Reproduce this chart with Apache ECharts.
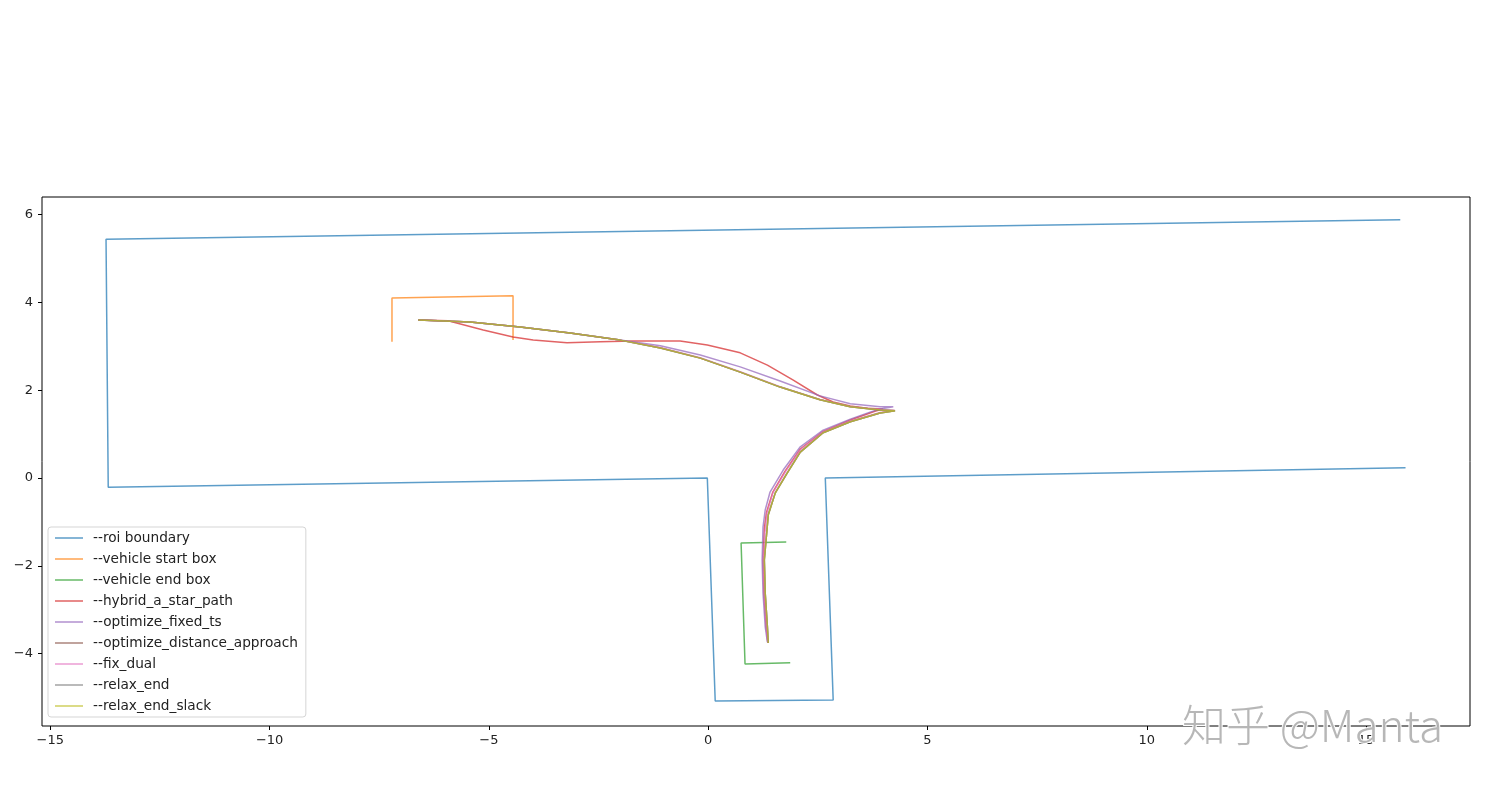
<!DOCTYPE html>
<html>
<head>
<meta charset="utf-8">
<script src="https://cdn.jsdelivr.net/npm/echarts@6/dist/echarts.min.js"></script>
<style>html,body{margin:0;padding:0;background:#fff;}#c{width:1492px;height:790px;}</style>
</head>
<body>
<div id="c"></div>
<script>
// ---- data ----
const seriesNames = ['--roi boundary','--vehicle start box','--vehicle end box','--hybrid_a_star_path','--optimize_fixed_ts','--optimize_distance_approach','--fix_dual','--relax_end','--relax_end_slack'];
const xTicks = [-15,-10,-5,0,5,10,15];
const yTicks = [-4,-2,0,2,4,6];

const roiBoundary = [[15.78,5.88],[-13.73,5.44],[-13.68,-0.21],[-0.02,0.0],[0.16,-5.08],[2.85,-5.06],[2.67,0.0],[15.90,0.23]];
const startBox = [[-7.21,3.10],[-7.21,4.10],[-4.45,4.15],[-4.45,3.14]];
const endBox = [[1.78,-1.46],[0.75,-1.48],[0.84,-4.24],[1.87,-4.21]];

const hybridAStar = [[-6.61,3.60],[-5.93,3.58],[-5.13,3.37],[-4.45,3.21],[-3.99,3.14],[-3.22,3.08],[-2.46,3.10],[-1.71,3.12],[-0.64,3.12],[-0.02,3.03],[0.73,2.85],[1.35,2.57],[1.94,2.23],[2.49,1.89],[2.85,1.73],[3.24,1.64],[3.63,1.59],[3.99,1.57],
  [3.80,1.52],[3.24,1.32],[2.62,1.06],[2.10,0.66],[1.75,0.15],[1.47,-0.33],[1.33,-0.78],[1.28,-1.15],[1.25,-1.87],[1.27,-2.62],[1.32,-3.39],[1.36,-3.75]];
const optimizeFixedTs = [[-6.61,3.60],[-5.43,3.55],[-4.29,3.44],[-3.15,3.30],[-2.01,3.14],[-1.09,3.01],[-0.18,2.80],[0.73,2.53],[1.64,2.21],[2.55,1.87],[3.24,1.69],[3.92,1.62],[4.22,1.62],
  [3.92,1.57],[3.69,1.50],[3.24,1.34],[2.62,1.09],[2.10,0.71],[1.71,0.18],[1.41,-0.32],[1.30,-0.73],[1.25,-1.12],[1.23,-1.87],[1.25,-2.62],[1.30,-3.39],[1.35,-3.74]];
const optimizeDistance = [[-6.61,3.60],[-5.43,3.55],[-4.29,3.44],[-3.15,3.30],[-2.01,3.14],[-1.09,2.96],[-0.18,2.73],[0.73,2.41],[1.64,2.07],[2.55,1.78],[3.24,1.62],[3.92,1.55],[4.26,1.53],
  [3.92,1.48],[3.24,1.28],[2.62,1.03],[2.10,0.59],[1.80,0.11],[1.53,-0.34],[1.37,-0.84],[1.32,-1.41],[1.28,-1.87],[1.30,-2.62],[1.35,-3.39],[1.37,-3.76]];
const fixDual = [[-6.61,3.60],[-5.43,3.55],[-4.29,3.44],[-3.15,3.30],[-2.01,3.14],[-1.09,2.97],[-0.18,2.74],[0.73,2.42],[1.64,2.08],[2.55,1.79],[3.24,1.63],[3.92,1.56],[4.25,1.54],
  [3.92,1.49],[3.24,1.30],[2.62,1.05],[2.10,0.64],[1.76,0.14],[1.48,-0.33],[1.34,-0.80],[1.29,-1.30],[1.26,-1.87],[1.28,-2.62],[1.33,-3.39],[1.36,-3.75]];
const relaxEnd = [[-6.61,3.60],[-5.43,3.55],[-4.29,3.44],[-3.15,3.30],[-2.01,3.14],[-1.09,2.96],[-0.18,2.73],[0.73,2.41],[1.64,2.07],[2.55,1.78],[3.24,1.62],[3.92,1.55],[4.26,1.53],
  [3.92,1.48],[3.24,1.28],[2.62,1.03],[2.10,0.59],[1.80,0.11],[1.53,-0.34],[1.37,-0.84],[1.32,-1.41],[1.28,-1.87],[1.30,-2.62],[1.35,-3.39],[1.37,-3.76]];
const relaxEndSlack = [[-6.61,3.60],[-5.43,3.55],[-4.29,3.44],[-3.15,3.30],[-2.01,3.14],[-1.09,2.96],[-0.18,2.73],[0.73,2.41],[1.64,2.07],[2.55,1.78],[3.24,1.62],[3.92,1.55],[4.26,1.53],
  [3.92,1.48],[3.24,1.28],[2.62,1.03],[2.10,0.59],[1.80,0.11],[1.53,-0.34],[1.37,-0.84],[1.32,-1.41],[1.28,-1.87],[1.30,-2.62],[1.35,-3.39],[1.37,-3.76]];

const colors = ['#1f77b4','#ff7f0e','#2ca02c','#d62728','#9467bd','#8c564b','#e377c2','#7f7f7f','#bcbd22'];
const allData = [roiBoundary,startBox,endBox,hybridAStar,optimizeFixedTs,optimizeDistance,fixDual,relaxEnd,relaxEndSlack];

const chart = echarts.init(document.getElementById('c'), null, {renderer:'canvas'});
const fmt = v => String(v).replace('-', '\u2212');
const font = 'DejaVu Sans';
chart.setOption({
  animation:false,
  backgroundColor:'#fff',
  grid:{left:42,right:22,top:197,bottom:64,show:true,borderColor:'#000',borderWidth:1,backgroundColor:'transparent'},
  xAxis:{type:'value',min:-15.19,max:17.37,position:'bottom',
    axisLine:{show:false,onZero:false},splitLine:{show:false},
    axisTick:{show:true,inside:false,length:4,lineStyle:{color:'#000'},customValues:xTicks},
    axisLabel:{customValues:xTicks,formatter:fmt,color:'#222',fontFamily:font,fontSize:13,margin:8}},
  yAxis:{type:'value',min:-5.65,max:6.40,position:'left',
    axisLine:{show:false,onZero:false},splitLine:{show:false},
    axisTick:{show:true,inside:false,length:4,lineStyle:{color:'#000'},customValues:yTicks},
    axisLabel:{customValues:yTicks,formatter:fmt,color:'#222',fontFamily:font,fontSize:13,margin:9}},
  legend:{orient:'vertical',left:48,top:527,itemWidth:28,itemHeight:14,itemGap:7,
    icon:'path://M0,0h28v1.5h-28z',symbolKeepAspect:true,
    padding:[4,8,4,7],backgroundColor:'rgba(255,255,255,0.85)',borderColor:'#d5d5d5',borderWidth:1,borderRadius:3,
    textStyle:{fontFamily:font,fontSize:13.7,color:'#222',padding:[0,0,0,5]},
    data:seriesNames},
  series:allData.map((d,i)=>({name:seriesNames[i],type:'line',data:d,symbol:'none',smooth:false,
    color:colors[i],lineStyle:{width:1.5,color:colors[i],opacity:0.72},itemStyle:{color:colors[i],opacity:0.72},z:2+i})),
  graphic:[{type:'text',left:1181,top:702,z:100,style:{text:'知乎 @Manta',font:'300 44px "Noto Sans CJK SC"',fill:'rgba(170,170,170,0.85)',stroke:'#fff',lineWidth:2}}]
});
</script>
</body>
</html>
